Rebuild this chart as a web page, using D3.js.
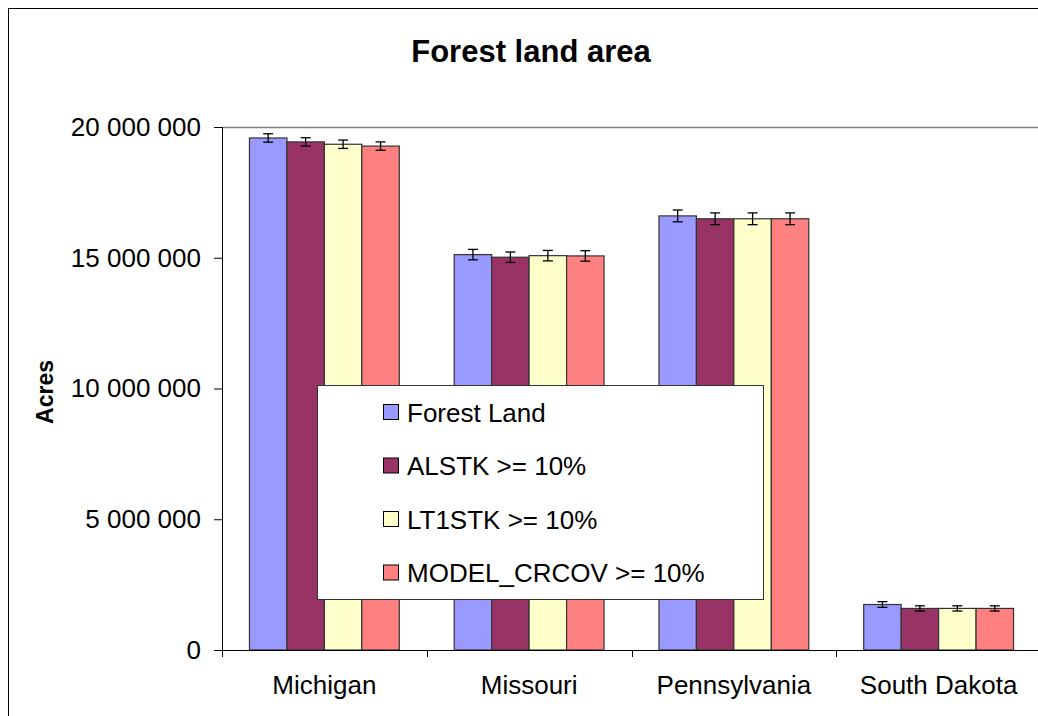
<!DOCTYPE html>
<html><head><meta charset="utf-8">
<script src="https://cdn.jsdelivr.net/npm/d3@7"></script>
<style>body{margin:0;background:#fff;}svg{display:block;font-family:"Liberation Sans",Arial,sans-serif;}</style>
</head><body>
<script>
const categories = ["Michigan","Missouri","Pennsylvania","South Dakota"];
const seriesNames = ["Forest Land","ALSTK >= 10%","LT1STK >= 10%","MODEL_CRCOV >= 10%"];
const forestLand = [19580000,15120000,16600000,1740000];
const alstk = [19430000,15020000,16490000,1590000];
const lt1stk = [19340000,15080000,16490000,1590000];
const modelCrcov = [19270000,15070000,16490000,1590000];
const errForest = [160000,200000,225000,110000];
const errAlstk = [160000,200000,225000,100000];
const errLt1 = [160000,200000,225000,100000];
const errModel = [160000,200000,225000,100000];
const yTicks = [0,5000000,10000000,15000000,20000000];
const colors = ["#9999FF","#993366","#FFFFCC","#FF8080"];

(function(){
const values = [forestLand, alstk, lt1stk, modelCrcov];
const errs = [errForest, errAlstk, errLt1, errModel];

const W = 1038, H = 716;
const svg = d3.select("body").append("svg").attr("width", W).attr("height", H);

svg.append("rect").attr("x", 8.5).attr("y", 8.5).attr("width", W + 10).attr("height", H + 10)
  .attr("fill", "#fff").attr("stroke", "#000").attr("stroke-width", 1);

const pL = 222, pR = 1041, pT = 127, pB = 650;
const x0 = d3.scaleBand().domain(categories).range([pL, pR]).paddingInner(0).paddingOuter(0);
const x1 = d3.scaleBand().domain(d3.range(4)).range([0, x0.bandwidth()]).paddingOuter(0.733).paddingInner(0);
const y = d3.scaleLinear().domain([0, 20000000]).range([pB, pT]);

svg.append("line").attr("x1", pL).attr("x2", pR).attr("y1", pT + 0.5).attr("y2", pT + 0.5)
  .attr("stroke", "#808080").attr("stroke-width", 1.5);

const g = svg.append("g");
categories.forEach((c, ci) => {
  values.forEach((s, si) => {
    const bx = x0(c) + x1(si);
    g.append("rect").attr("x", bx).attr("y", y(s[ci])).attr("width", x1.bandwidth())
      .attr("height", y(0) - y(s[ci])).attr("fill", colors[si])
      .attr("stroke", "#333").attr("stroke-width", 1.2);
  });
});
categories.forEach((c, ci) => {
  values.forEach((s, si) => {
    const cx = x0(c) + x1(si) + x1.bandwidth() / 2;
    const hi = y(s[ci] + errs[si][ci]), lo = y(s[ci] - errs[si][ci]);
    g.append("line").attr("x1", cx).attr("x2", cx).attr("y1", hi).attr("y2", lo).attr("stroke", "#000").attr("stroke-width", 1.3);
    [hi, lo].forEach(yy => g.append("line").attr("x1", cx - 5).attr("x2", cx + 5).attr("y1", yy).attr("y2", yy).attr("stroke", "#000").attr("stroke-width", 1.3));
  });
});

const fmt = v => d3.format(",")(v).replace(/,/g, " ");
const yAxis = svg.append("g").attr("transform", `translate(${pL},0)`)
  .call(d3.axisLeft(y).tickValues(yTicks).tickFormat(fmt).tickSize(8).tickPadding(13));
yAxis.select(".domain").attr("stroke", "#000").attr("d", `M0.5,${pT}V${pB}`);
yAxis.selectAll(".tick line").attr("stroke", "#000");
yAxis.selectAll("text").attr("font-size", 26).attr("fill", "#000").attr("font-family", "Liberation Sans, Arial, sans-serif");

const xAxis = svg.append("g").attr("transform", `translate(0,${pB})`)
  .call(d3.axisBottom(x0).tickSize(0).tickPadding(26));
xAxis.select(".domain").attr("stroke", "#000").attr("d", `M${pL},0.5H${pR}`);
xAxis.selectAll("text").attr("font-size", 26).attr("fill", "#000").attr("font-family", "Liberation Sans, Arial, sans-serif");
const sepTicks = categories.map(c => x0(c)).concat([pR]);
xAxis.selectAll(".sep").data(sepTicks).enter().append("line")
  .attr("x1", d => Math.round(d) + 0.5).attr("x2", d => Math.round(d) + 0.5).attr("y1", 0).attr("y2", 7).attr("stroke", "#000");

svg.append("text").attr("x", 531).attr("y", 62).attr("text-anchor", "middle")
  .attr("font-size", 31).attr("font-weight", "bold").text("Forest land area");
svg.append("text").attr("transform", "translate(53,392) rotate(-90)").attr("text-anchor", "middle")
  .attr("font-size", 23).attr("font-weight", "bold").text("Acres");

const lg = svg.append("g");
lg.append("rect").attr("x", 317.5).attr("y", 385.5).attr("width", 446).attr("height", 214)
  .attr("fill", "#fff").attr("stroke", "#333").attr("stroke-width", 1);
seriesNames.forEach((n, i) => {
  const yy = 412 + i * 53.5;
  lg.append("rect").attr("x", 383.5).attr("y", yy - 7.5).attr("width", 15).attr("height", 15)
    .attr("fill", colors[i]).attr("stroke", "#000").attr("stroke-width", 1);
  lg.append("text").attr("x", 407).attr("y", yy + 9.5).attr("font-size", 26).text(n);
});
})();
</script>
</body></html>
